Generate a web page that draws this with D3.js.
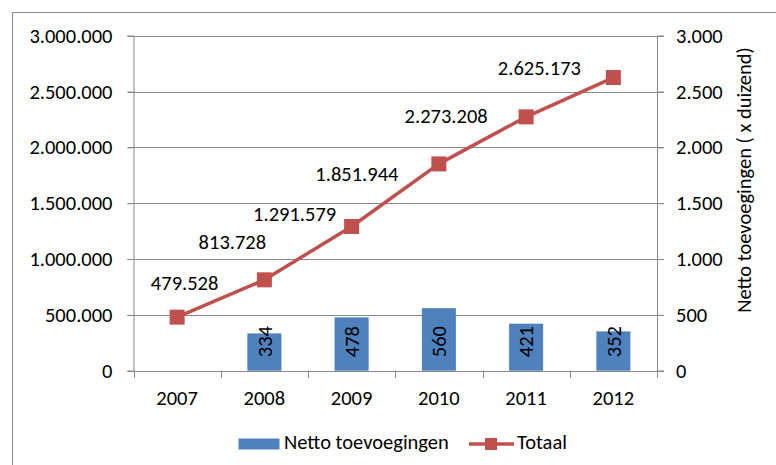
<!DOCTYPE html>
<html>
<head>
<meta charset="utf-8">
<script src="https://cdn.jsdelivr.net/npm/d3@7/dist/d3.min.js"></script>
<style>
  html, body { margin: 0; padding: 0; background: #fff; }
  svg { display: block; }
  text { font-family: Carlito, Calibri, Lato, sans-serif; fill: #000; }
</style>
</head>
<body>
<svg id="chart" width="776" height="465"></svg>
<script>
// Jaren op de categorie-as
const years = ["2007", "2008", "2009", "2010", "2011", "2012"];
// Netto toevoegingen (x duizend), rechter as; 2007 heeft geen waarde
const nettoToevoegingen = [null, 334, 478, 560, 421, 352];
// Totaal, linker as
const totaal = [479528, 813728, 1291579, 1851944, 2273208, 2625173];
// Ticks van beide assen
const leftTicks = [0, 500000, 1000000, 1500000, 2000000, 2500000, 3000000];
const rightTicks = [0, 500, 1000, 1500, 2000, 2500, 3000];

// Handmatige verschuiving van de labels bij de lijn (px t.o.v. het punt)
const labelShiftX = [7.5, -32, -57, -82, -80, -74];
const labelShiftY = [-27, -31, -5, 17, 6, -3];

const svg = d3.select("#chart");
const W = 776, H = 465;
const plot = { left: 133.5, right: 657, top: 35.7, bottom: 370.7 };

const gridColor = "#878787";
const barColor = "#4F81BD";
const lineColor = "#C0504D";
const fontSize = 20.5;

// Nederlandse getalnotatie met punt als duizendtalscheiding
const nl = d3.formatLocale({ decimal: ",", thousands: ".", grouping: [3], currency: ["€", ""] });
const fmt = nl.format(",d");

// Buitenrand van de grafiek
svg.append("rect")
  .attr("x", 12.5).attr("y", 12.5)
  .attr("width", W + 20).attr("height", H + 20)
  .attr("fill", "none").attr("stroke", "#8c8c8c").attr("stroke-width", 1);

const x = d3.scaleBand().domain(years).range([plot.left, plot.right]).paddingInner(0).paddingOuter(0);
const yL = d3.scaleLinear().domain([0, 3000000]).range([plot.bottom, plot.top]);
const yR = d3.scaleLinear().domain([0, 3000]).range([plot.bottom, plot.top]);

// Rasterlijnen
svg.append("g")
  .selectAll("line").data(leftTicks.filter(d => d > 0)).join("line")
  .attr("x1", plot.left - 6).attr("x2", plot.right + 7)
  .attr("y1", d => Math.round(yL(d)) + 0.5).attr("y2", d => Math.round(yL(d)) + 0.5)
  .attr("stroke", gridColor).attr("stroke-width", 1);

// Linker as
const axL = svg.append("g")
  .attr("transform", `translate(${plot.left},0)`)
  .call(d3.axisLeft(yL).tickValues(leftTicks).tickFormat(fmt).tickSize(6).tickPadding(15));
axL.selectAll("path, line").attr("stroke", gridColor);
axL.selectAll("text").style("font-size", fontSize + "px").attr("fill", "#000");

// Rechter as
const axR = svg.append("g")
  .attr("transform", `translate(${plot.right},0)`)
  .call(d3.axisRight(yR).tickValues(rightTicks).tickFormat(fmt).tickSize(7).tickPadding(12));
axR.selectAll("path, line").attr("stroke", gridColor);
axR.selectAll("text").style("font-size", fontSize + "px").attr("fill", "#000");

// Titel rechter as
svg.append("text")
  .attr("transform", `translate(751,180) rotate(-90)`)
  .attr("text-anchor", "middle")
  .style("font-size", fontSize + "px")
  .text("Netto toevoegingen ( x duizend)");

// Staven (rechter as)
const barW = x.bandwidth() * 0.39;
const barData = years.map((y, i) => ({ year: y, v: nettoToevoegingen[i] })).filter(d => d.v != null);
svg.append("g").selectAll("rect").data(barData).join("rect")
  .attr("x", d => x(d.year) + x.bandwidth() / 2 - barW / 2)
  .attr("width", barW)
  .attr("y", d => yR(d.v))
  .attr("height", d => yR(0) - yR(d.v))
  .attr("fill", barColor);

// Waardelabels in de staven, gedraaid
svg.append("g").selectAll("text").data(barData).join("text")
  .attr("transform", d => `translate(${x(d.year) + x.bandwidth() / 2},${yR(0) - 13.5}) rotate(-90)`)
  .attr("text-anchor", "start")
  .attr("dy", "0.35em")
  .style("font-size", fontSize + "px")
  .text(d => fmt(d.v));

// Categorie-as
const axX = svg.append("g")
  .attr("transform", `translate(0,${plot.bottom})`)
  .call(d3.axisBottom(x).tickSize(0).tickPadding(20));
axX.select("path").remove();
axX.selectAll("text").style("font-size", fontSize + "px").attr("fill", "#000");
svg.append("line")
  .attr("x1", plot.left - 6).attr("x2", plot.right + 7)
  .attr("y1", Math.round(plot.bottom) + 0.5).attr("y2", Math.round(plot.bottom) + 0.5)
  .attr("stroke", gridColor);
svg.append("g").selectAll("line").data(d3.range(years.length + 1)).join("line")
  .attr("x1", i => Math.round(plot.left + i * x.step()) + 0.5)
  .attr("x2", i => Math.round(plot.left + i * x.step()) + 0.5)
  .attr("y1", plot.bottom).attr("y2", plot.bottom + 7)
  .attr("stroke", gridColor);

// Lijn Totaal (linker as)
const pts = years.map((y, i) => ({ year: y, v: totaal[i], i }));
const line = d3.line().x(d => x(d.year) + x.bandwidth() / 2).y(d => yL(d.v));
svg.append("path").datum(pts)
  .attr("d", line)
  .attr("fill", "none").attr("stroke", lineColor).attr("stroke-width", 3.5)
  .attr("stroke-linejoin", "round");

const mk = 15;
svg.append("g").selectAll("rect").data(pts).join("rect")
  .attr("x", d => x(d.year) + x.bandwidth() / 2 - mk / 2)
  .attr("y", d => yL(d.v) - mk / 2)
  .attr("width", mk).attr("height", mk)
  .attr("fill", lineColor);

// Labels bij de lijn
svg.append("g").selectAll("text").data(pts).join("text")
  .attr("x", d => x(d.year) + x.bandwidth() / 2 + labelShiftX[d.i])
  .attr("y", d => yL(d.v) + labelShiftY[d.i])
  .attr("text-anchor", "middle")
  .style("font-size", fontSize + "px")
  .text(d => fmt(d.v));

// Legenda
const lg = svg.append("g");
lg.append("rect").attr("x", 238.5).attr("y", 438.5).attr("width", 41).attr("height", 11).attr("fill", barColor);
lg.append("text").attr("x", 284).attr("y", 448.5).style("font-size", fontSize + "px").text("Netto toevoegingen");
lg.append("line").attr("x1", 469).attr("x2", 514).attr("y1", 444).attr("y2", 444)
  .attr("stroke", lineColor).attr("stroke-width", 3.5);
lg.append("rect").attr("x", 485).attr("y", 438).attr("width", 12).attr("height", 12).attr("fill", lineColor);
lg.append("text").attr("x", 517).attr("y", 448.5).style("font-size", fontSize + "px").text("Totaal");
</script>
</body>
</html>
